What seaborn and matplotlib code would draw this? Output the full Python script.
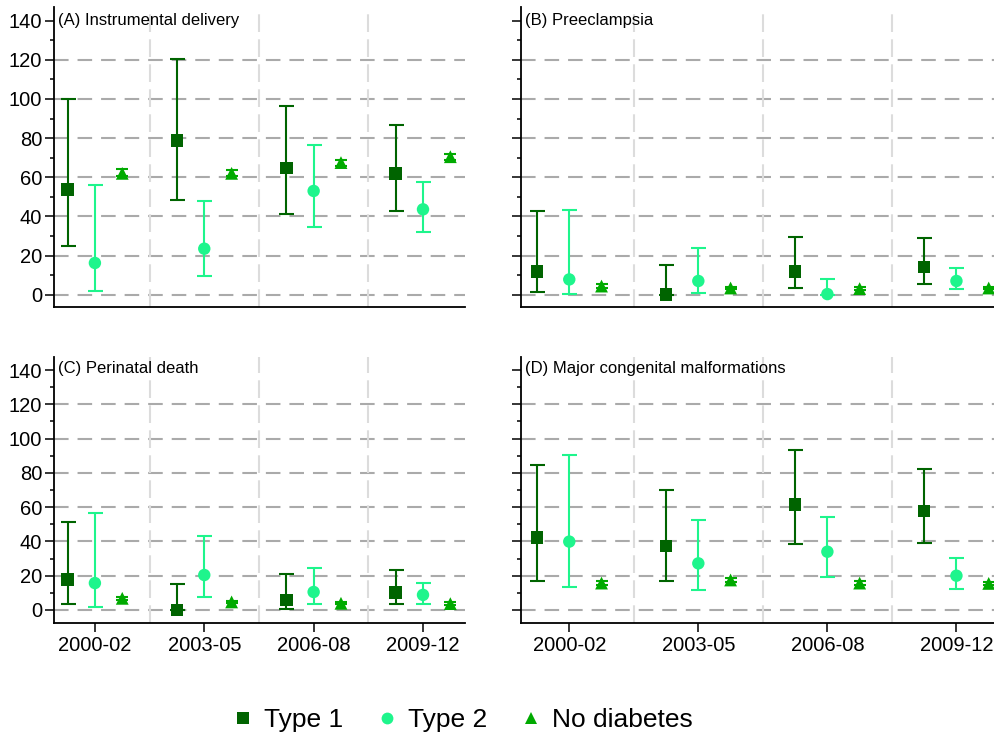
import numpy as np
import pandas as pd
import matplotlib
matplotlib.use("Agg")
import matplotlib.pyplot as plt
import seaborn as sns
from matplotlib.lines import Line2D
from matplotlib.ticker import MultipleLocator

# ---------------- data ----------------
periods = ["2000-02", "2003-05", "2006-08", "2009-12"]
groups = ["Type 1", "Type 2", "No diabetes"]
panel_titles = ["(A) Instrumental delivery", "(B) Preeclampsia",
                "(C) Perinatal death", "(D) Major congenital malformations"]

# (A) Instrumental delivery
a_t1_est = [53.8, 78.7, 64.6, 62.0]
a_t1_lo = [25.0, 48.2, 41.1, 42.6]
a_t1_hi = [99.8, 120.3, 96.3, 86.6]
a_t2_est = [16.2, 23.5, 53.0, 43.6]
a_t2_lo = [2.0, 9.5, 34.6, 31.9]
a_t2_hi = [56.2, 47.9, 76.7, 57.6]
a_nd_est = [62.0, 62.0, 67.5, 70.5]
a_nd_lo = [60.5, 60.5, 66.0, 69.0]
a_nd_hi = [64.0, 63.7, 69.0, 72.0]

# (B) Preeclampsia
b_t1_est = [11.9, 0.0, 11.9, 14.0]
b_t1_lo = [1.5, 0.0, 3.6, 5.6]
b_t1_hi = [42.6, 15.3, 29.7, 28.8]
b_t2_est = [7.8, 7.0, 0.3, 7.0]
b_t2_lo = [0.3, 0.9, 0.0, 2.7]
b_t2_hi = [43.5, 24.0, 7.8, 13.8]
b_nd_est = [4.4, 3.4, 3.1, 3.4]
b_nd_lo = [3.5, 2.8, 2.5, 2.8]
b_nd_hi = [5.3, 4.0, 3.8, 4.0]

# (C) Perinatal death
c_t1_est = [17.9, 0.0, 5.8, 10.1]
c_t1_lo = [3.7, 0.0, 0.8, 3.5]
c_t1_hi = [51.5, 15.2, 21.0, 23.5]
c_t2_est = [15.7, 20.4, 10.5, 8.8]
c_t2_lo = [1.9, 7.4, 3.5, 3.7]
c_t2_hi = [56.4, 43.4, 24.7, 15.9]
c_nd_est = [6.8, 4.7, 3.9, 3.7]
c_nd_lo = [6.0, 4.0, 3.3, 3.0]
c_nd_hi = [7.6, 5.4, 4.6, 4.4]

# (D) Major congenital malformations
d_t1_est = [42.2, 37.3, 61.6, 57.7]
d_t1_lo = [17.1, 17.1, 38.7, 39.1]
d_t1_hi = [84.6, 70.0, 93.1, 82.1]
d_t2_est = [39.9, 27.2, 34.0, 20.0]
d_t2_lo = [13.2, 11.7, 19.4, 12.2]
d_t2_hi = [90.4, 52.3, 54.2, 30.1]
d_nd_est = [15.7, 17.5, 15.7, 15.5]
d_nd_lo = [14.5, 16.3, 14.7, 14.5]
d_nd_hi = [17.0, 18.7, 16.8, 16.5]

y_ticks = [0, 20, 40, 60, 80, 100, 120, 140]

panel_data = {
    panel_titles[0]: [(a_t1_est, a_t1_lo, a_t1_hi), (a_t2_est, a_t2_lo, a_t2_hi), (a_nd_est, a_nd_lo, a_nd_hi)],
    panel_titles[1]: [(b_t1_est, b_t1_lo, b_t1_hi), (b_t2_est, b_t2_lo, b_t2_hi), (b_nd_est, b_nd_lo, b_nd_hi)],
    panel_titles[2]: [(c_t1_est, c_t1_lo, c_t1_hi), (c_t2_est, c_t2_lo, c_t2_hi), (c_nd_est, c_nd_lo, c_nd_hi)],
    panel_titles[3]: [(d_t1_est, d_t1_lo, d_t1_hi), (d_t2_est, d_t2_lo, d_t2_hi), (d_nd_est, d_nd_lo, d_nd_hi)],
}

rows = []
for title, series in panel_data.items():
    for g, (est, lo, hi) in zip(groups, series):
        for p, e, l, h in zip(periods, est, lo, hi):
            rows.append(dict(panel=title, period=p, group=g, est=e, lo=l, hi=h))
df = pd.DataFrame(rows)
df["period"] = pd.Categorical(df["period"], categories=periods, ordered=True)
df["group"] = pd.Categorical(df["group"], categories=groups, ordered=True)
offsets = {"Type 1": -0.25, "Type 2": 0.0, "No diabetes": 0.25}
df["xpos"] = df["period"].cat.codes + df["group"].map(offsets).astype(float)

# ---------------- style ----------------
sns.set_theme(style="ticks")
plt.rcParams["font.family"] = ["Liberation Sans", "DejaVu Sans"]
plt.rcParams["text.color"] = "black"
plt.rcParams["xtick.color"] = "black"
plt.rcParams["ytick.color"] = "black"

colors = {"Type 1": "#006400", "Type 2": "#1ef58c", "No diabetes": "#00aa00"}
markers = {"Type 1": "s", "Type 2": "o", "No diabetes": "^"}
sizes = {"Type 1": 80, "Type 2": 80, "No diabetes": 85}
caps = {"Type 1": 5.4, "Type 2": 5.4, "No diabetes": 4.3}

W, H = 994, 738
fig = plt.figure(figsize=(W / 100, H / 100), dpi=100)

def px_axes(left, top, width, height):
    return fig.add_axes([left / W, 1 - (top + height) / H, width / W, height / H])

axes = [
    px_axes(54, 7, 411, 300),
    px_axes(521, 7, 485, 300),
    px_axes(54, 357, 411, 266),
    px_axes(521, 357, 485, 266),
]
ylims = [(-6.3, 147), (-6.3, 147), (-7.6, 147.6), (-7.6, 147.6)]

for i, (ax, title) in enumerate(zip(axes, panel_titles)):
    sub = df[df["panel"] == title]
    ax.set_xlim(-0.374, 3.384)
    ax.set_ylim(*ylims[i])

    # grid lines
    for v in y_ticks[:-1]:
        ax.axhline(v, color="#aaaaaa", lw=1.5, ls=(0, (7, 4.3)), zorder=1)
    for s in [0.5, 1.5, 2.5]:
        ax.axvline(s, color="#dcdcdc", lw=1.5, ls=(0, (8.5, 3.5)), zorder=1)

    # error bars
    for g in groups:
        gs = sub[sub["group"] == g]
        ax.errorbar(gs["xpos"], gs["est"],
                    yerr=[gs["est"] - gs["lo"], gs["hi"] - gs["est"]],
                    fmt="none", ecolor=colors[g], elinewidth=1.5,
                    capsize=caps[g], capthick=1.5, zorder=2)

    # points
    sns.scatterplot(data=sub, x="xpos", y="est", hue="group", style="group",
                    size="group", sizes=sizes, markers=markers, palette=colors,
                    hue_order=groups, style_order=groups, size_order=groups,
                    linewidth=0, legend=False, ax=ax, zorder=3)

    ax.set_xlabel("")
    ax.set_ylabel("")
    ax.set_yticks(y_ticks)
    ax.yaxis.set_minor_locator(MultipleLocator(10))
    ax.set_xticks(range(len(periods)))
    ax.set_xticklabels(periods)
    ax.tick_params(axis="both", which="major", length=6.5, width=1.1,
                   colors="black", labelsize=14.5, pad=2)
    ax.tick_params(axis="y", which="minor", length=3, width=1.1, colors="black")
    ax.tick_params(axis="x", pad=3)
    if i < 2:
        ax.tick_params(axis="x", bottom=False, labelbottom=False)
    if i % 2 == 1:
        ax.tick_params(axis="y", labelleft=False)

    for side in ["top", "right"]:
        ax.spines[side].set_visible(False)
    for side in ["left", "bottom"]:
        ax.spines[side].set_linewidth(1.3)
        ax.spines[side].set_color("black")

    ax.annotate(title, xy=(0, 1), xycoords="axes fraction",
                xytext=(3, -10 if i < 2 else -8), textcoords="offset points",
                ha="left", va="center", fontsize=12, color="black")

# legend
handles = [Line2D([], [], ls="none", marker=markers[g], color=colors[g],
                  markersize=8.5, markeredgewidth=0) for g in groups]
leg = fig.legend(handles, groups, loc="center", bbox_to_anchor=(0.464, 0.0244),
                 ncol=3, frameon=False, fontsize=19, handlelength=1.0,
                 handletextpad=0.3, columnspacing=1.15)
for t in leg.get_texts():
    t.set_color("black")

fig.savefig("out.png", dpi=100)
